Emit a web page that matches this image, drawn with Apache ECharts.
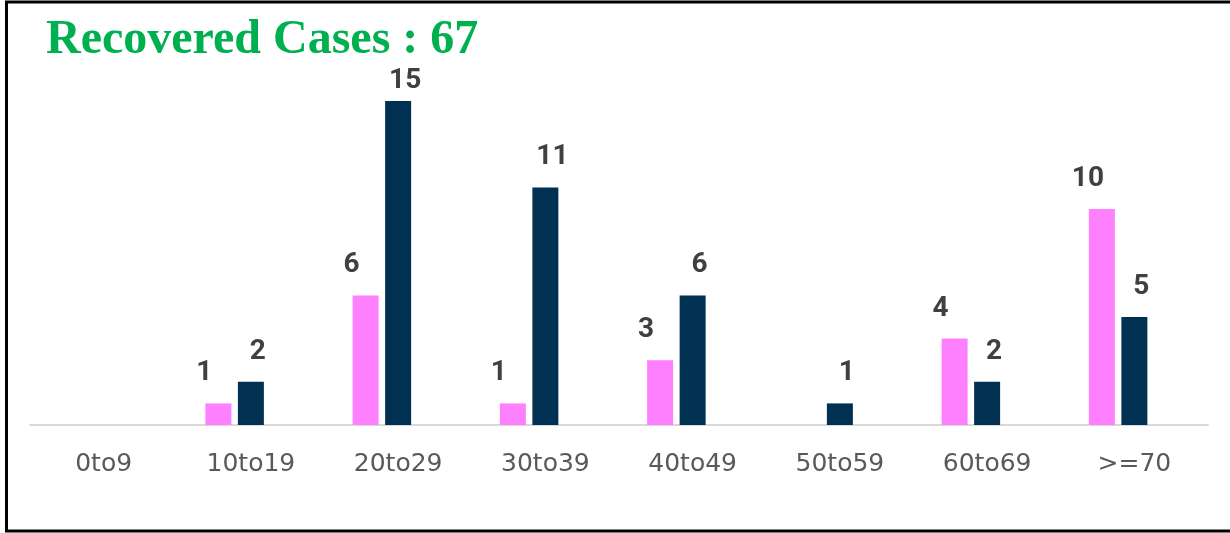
<!DOCTYPE html>
<html>
<head>
<meta charset="utf-8">
<script src="https://cdn.jsdelivr.net/npm/echarts@6/dist/echarts.min.js"></script>
<style>
  html, body { margin: 0; padding: 0; background: #fff; }
  #chart { width: 1230px; height: 533px; }
</style>
</head>
<body>
<div id="chart"></div>
<script>
// age groups
const categories = ['0to9', '10to19', '20to29', '30to39', '40to49', '50to59', '60to69', '>=70']
// pink series / navy series
const pinkValues = [0, 1, 6, 1, 3, 0, 4, 10]
const navyValues = [0, 2, 15, 11, 6, 1, 2, 5]
// third slot in each group is empty in the source chart
const emptyValues = ['-', '-', '-', '-', '-', '-', '-', '-']
const titleText = 'Recovered Cases : 67'

const chart = echarts.init(document.getElementById('chart'))

// hide zero labels
const labelFmt = p => (p.value ? String(p.value) : '')

const labelBase = {
  show: true,
  position: 'top',
  formatter: labelFmt,
  color: '#404040',
  fontFamily: 'Roboto',
  fontWeight: 'bold',
  fontSize: 28
}

// pink labels sit up-left, navy up-right; the tallest one stays clear of the title
const labelNudge = p => ({
  dx: p.seriesIndex === 1 ? 7 : -14,
  dy: p.rect.y < 110 ? -1 : -11
})

const option = {
  animation: false,
  backgroundColor: '#fff',
  title: {
    text: titleText,
    left: 46,
    top: 17,
    padding: 0,
    textStyle: {
      fontFamily: 'Liberation Serif',
      fontWeight: 'bold',
      fontSize: 48,
      color: '#00B050'
    }
  },
  graphic: [
    {
      type: 'rect',
      shape: { x: 6.5, y: 2, width: 1300, height: 529 },
      style: { fill: 'none', stroke: '#000', lineWidth: 3 },
      silent: true
    }
  ],
  grid: {
    left: 30,
    right: 22,
    top: 101,
    bottom: 108
  },
  xAxis: {
    type: 'category',
    data: categories,
    axisTick: { show: false },
    axisLine: {
      lineStyle: { color: '#d9d9d9', width: 2 }
    },
    axisLabel: {
      color: '#595959',
      fontFamily: 'DejaVu Sans',
      fontSize: 25,
      margin: 27
    }
  },
  yAxis: {
    type: 'value',
    min: 0,
    max: 15,
    show: false,
    splitLine: { show: false }
  },
  labelLayout: labelNudge,
  series: [
    {
      name: 'pink',
      type: 'bar',
      data: pinkValues,
      barWidth: 26,
      barGap: '25%',
      itemStyle: { color: '#FF80FF' },
      label: labelBase
    },
    {
      name: 'navy',
      type: 'bar',
      data: navyValues,
      barWidth: 26,
      itemStyle: { color: '#003153' },
      label: labelBase
    },
    {
      name: 'empty',
      type: 'bar',
      data: emptyValues,
      barWidth: 26,
      silent: true
    }
  ]
}

chart.setOption(option)
</script>
</body>
</html>
